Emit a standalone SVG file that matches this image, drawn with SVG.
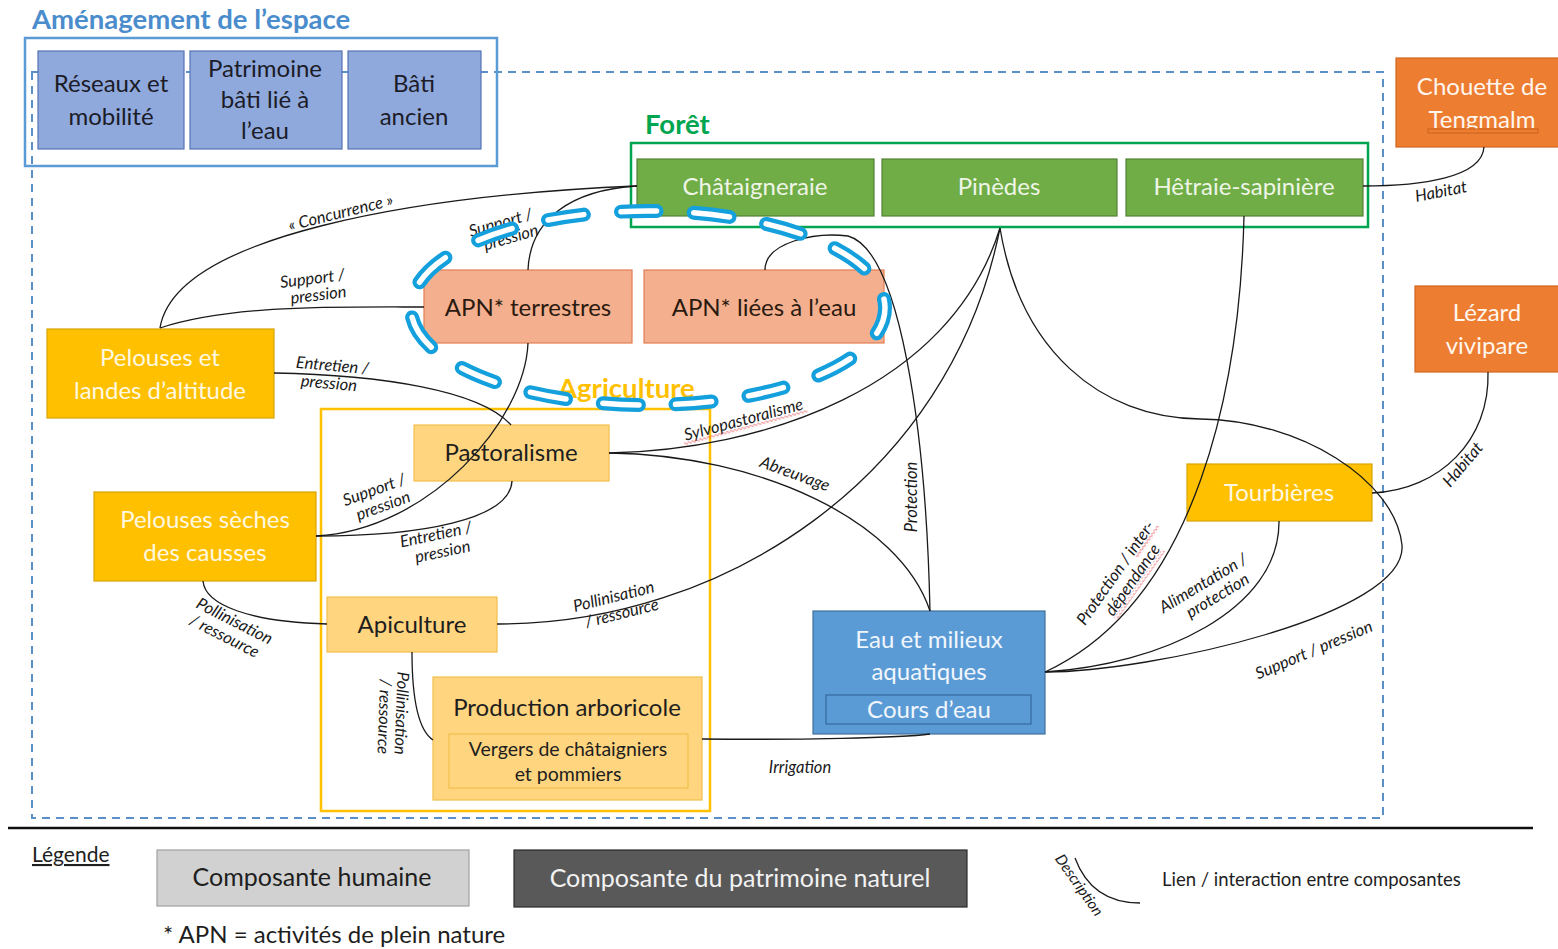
<svg xmlns="http://www.w3.org/2000/svg" width="1558" height="949" viewBox="0 0 1558 949">
<defs>
<style>
text{font-family:Lato,"Open Sans","Liberation Sans",sans-serif}
.n text{font-size:24px;text-anchor:middle}
.bp rect{fill:#8fa9dc;stroke:#5573b4;stroke-width:1.2}
.bp text{fill:#1c1c28}
.gr rect{fill:#70ad47;stroke:#548235;stroke-width:1.2}
.gr text{fill:#eef5e6}
.or rect{fill:#ed7d31;stroke:#d0651e;stroke-width:1.2}
.or text{fill:#fff6ee}
.ap rect{fill:#f4b08e;stroke:#e07e52;stroke-width:1.2}
.ap text{fill:#2b1a10}
.ye rect{fill:#ffc000;stroke:#d9a300;stroke-width:1.2}
.ye text{fill:#fff8e0}
.lo rect{fill:#ffd580;stroke:#f2bf4c;stroke-width:1.2}
.lo text{fill:#1e1e1e}
.bl rect{fill:#5b9bd5;stroke:#41719c;stroke-width:1.2}
.bl text{fill:#f0f6fc}
.c path{fill:none;stroke:#1a1a1a;stroke-width:1.3}
.lbl{font-style:italic;font-size:16.5px;fill:#1a1a1a;text-anchor:middle}
.ttl{font-weight:bold;font-size:27.5px}
</style>
<pattern id="wave" x="0" y="0" width="4" height="4" patternUnits="userSpaceOnUse">
<path d="M0,2.5 Q1,0.5 2,2.5 T4,2.5" fill="none" stroke="#e0303a" stroke-width="0.9"/>
</pattern>
</defs>
<rect x="0" y="0" width="1558" height="949" fill="#ffffff"/>

<g id="frames">
<rect x="32" y="72" width="1351" height="746" fill="none" stroke="#5b8fc7" stroke-width="2" stroke-dasharray="8 6"/>
<rect x="25" y="38" width="472" height="128" fill="none" stroke="#5b9bd5" stroke-width="2.5"/>
<text x="32" y="29" class="ttl" fill="#4a8ccc">Aménagement de l’espace</text>
<rect x="631" y="143" width="737" height="84" fill="none" stroke="#00a550" stroke-width="2.5"/>
<text x="645" y="134" class="ttl" fill="#00a550">Forêt</text>
<rect x="321" y="409" width="389" height="402" fill="none" stroke="#ffc000" stroke-width="2.5"/>
<text x="558" y="398" class="ttl" fill="#ffc000">Agriculture</text>
</g>

<g id="reseaux" class="n bp"><rect x="38" y="51" width="146" height="98"/><text x="111" y="92">Réseaux et</text><text x="111" y="125">mobilité</text></g>
<g id="patrimoine" class="n bp"><rect x="190" y="51" width="152" height="98"/><text x="265" y="77">Patrimoine</text><text x="265" y="108">bâti lié à</text><text x="265" y="139">l’eau</text></g>
<g id="bati" class="n bp"><rect x="348" y="51" width="133" height="98"/><text x="414" y="92">Bâti</text><text x="414" y="125">ancien</text></g>

<g id="chataigneraie" class="n gr"><rect x="637" y="159" width="237" height="57"/><text x="755" y="195">Châtaigneraie</text></g>
<g id="pinedes" class="n gr"><rect x="882" y="159" width="235" height="57"/><text x="999" y="195">Pinèdes</text></g>
<g id="hetraie" class="n gr"><rect x="1126" y="159" width="237" height="57"/><text x="1244" y="195">Hêtraie-sapinière</text></g>

<g id="chouette" class="n or"><rect x="1396" y="58" width="164" height="89"/><text x="1482" y="95">Chouette de</text><text x="1482" y="128">Tengmalm</text><rect x="1428" y="129" width="110" height="4" fill="url(#wave)" stroke="none"/></g>
<g id="lezard" class="n or"><rect x="1415" y="286" width="145" height="86"/><text x="1487" y="321">Lézard</text><text x="1487" y="354">vivipare</text></g>

<g id="apn-terrestres" class="n ap"><rect x="424" y="270" width="208" height="73"/><text x="528" y="316">APN* terrestres</text></g>
<g id="apn-eau" class="n ap"><rect x="644" y="270" width="240" height="73"/><text x="764" y="316">APN* liées à l’eau</text></g>

<g id="pelouses-altitude" class="n ye"><rect x="47" y="329" width="227" height="89"/><text x="160" y="366">Pelouses et</text><text x="160" y="399">landes d’altitude</text></g>
<g id="pelouses-seches" class="n ye"><rect x="94" y="492" width="222" height="89"/><text x="205" y="528">Pelouses sèches</text><text x="205" y="561">des causses</text></g>
<g id="tourbieres" class="n ye"><rect x="1187" y="464" width="185" height="57"/><text x="1279" y="501">Tourbières</text></g>

<g id="pastoralisme" class="n lo"><rect x="414" y="425" width="195" height="56"/><text x="511" y="461">Pastoralisme</text></g>
<g id="apiculture" class="n lo"><rect x="327" y="597" width="170" height="55"/><text x="412" y="633">Apiculture</text></g>
<g id="production" class="n lo"><rect x="433" y="677" width="269" height="123"/><text x="567" y="716">Production arboricole</text><rect x="449" y="734" width="239" height="54"/><text x="568" y="756" style="font-size:19.5px">Vergers de châtaigniers</text><text x="568" y="781" style="font-size:19.5px">et pommiers</text></g>

<g id="eau" class="n bl"><rect x="813" y="611" width="232" height="123"/><text x="929" y="648">Eau et milieux</text><text x="929" y="680">aquatiques</text><rect x="826" y="695" width="205" height="29" style="stroke:#2f5f96;stroke-width:1"/><text x="929" y="718">Cours d’eau</text></g>

<g id="connectors" class="c">
<path d="M637,186 C420,195 175,235 160,328"/>
<path d="M160,328 C230,305 330,307 424,307"/>
<path d="M637,186 C570,190 530,220 528,270"/>
<path d="M528,343 C525,420 430,530 316,536"/>
<path d="M512,481 C510,520 420,536 316,536"/>
<path d="M274,373 C380,375 480,390 511,425"/>
<path d="M609,453 C760,450 950,390 1000,228"/>
<path d="M609,453 C760,455 900,520 930,611"/>
<path d="M497,624 C720,625 950,480 1000,228"/>
<path d="M765,270 C765,242 815,232 848,236 C900,250 926,430 930,611"/>
<path d="M702,739 C800,740 900,738 930,734"/>
<path d="M327,624 C250,622 205,605 203,581"/>
<path d="M412,652 C412,700 418,730 433,740"/>
<path d="M1244,216 C1240,380 1200,600 1045,672"/>
<path d="M1279,521 C1280,610 1160,665 1045,672"/>
<path d="M1000,228 C1020,350 1100,418 1200,419 C1300,420 1395,480 1402,545 C1408,615 1150,672 1045,672"/>
<path d="M1363,186 C1420,186 1482,178 1484,147"/>
<path d="M1488,372 C1490,440 1440,490 1372,493"/>
</g>

<g id="connector-labels">
<text class="lbl" transform="translate(342,218) rotate(-14)">« Concurrence »</text>
<g transform="translate(313,284) rotate(-7)"><text class="lbl">Support /</text><text class="lbl" x="4" y="17">pression</text></g>
<g transform="translate(502,228) rotate(-16)"><text class="lbl">Support /</text><text class="lbl" x="6" y="17">pression</text></g>
<g transform="translate(332,371) rotate(5)"><text class="lbl">Entretien /</text><text class="lbl" x="-2" y="18">pression</text></g>
<g transform="translate(376,495) rotate(-20)"><text class="lbl">Support /</text><text class="lbl" x="3" y="18">pression</text></g>
<g transform="translate(437,540) rotate(-12)"><text class="lbl">Entretien /</text><text class="lbl" x="3" y="18">pression</text></g>
<g transform="translate(745,425) rotate(-15)"><text class="lbl">Sylvopastoralisme</text><rect x="-64" y="1" width="128" height="4" fill="url(#wave)"/></g>
<text class="lbl" transform="translate(793,479) rotate(20)">Abreuvage</text>
<text class="lbl" transform="translate(917,497) rotate(-90)">Protection</text>
<g transform="translate(615,602) rotate(-14)"><text class="lbl">Pollinisation</text><text class="lbl" x="4" y="18">/ ressource</text></g>
<g transform="translate(232,626) rotate(27)"><text class="lbl">Pollinisation</text><text class="lbl" x="-2" y="18">/ ressource</text></g>
<g transform="translate(396,713) rotate(92)"><text class="lbl">Pollinisation</text><text class="lbl" x="4" y="17">/ ressource</text></g>
<text class="lbl" x="800" y="773">Irrigation</text>
<g transform="translate(1120,576) rotate(-55)"><text class="lbl">Protection / inter-</text><rect x="25" y="1" width="38" height="4" fill="url(#wave)"/><text class="lbl" x="4" y="18">dépendance</text><rect x="-38" y="19" width="84" height="4" fill="url(#wave)"/></g>
<g transform="translate(1206,588) rotate(-31)"><text class="lbl">Alimentation /</text><text class="lbl" x="6" y="18">protection</text></g>
<text class="lbl" transform="translate(1316,655) rotate(-23)">Support / pression</text>
<text class="lbl" transform="translate(1442,197) rotate(-11)">Habitat</text>
<text class="lbl" transform="translate(1467,468) rotate(-50)">Habitat</text>
</g>

<g id="highlight">
<ellipse cx="648" cy="308" rx="237" ry="97" fill="none" stroke="#14a0dc" stroke-width="14" stroke-linecap="round" stroke-dasharray="36 37" stroke-dashoffset="9" pathLength="1095"/>
<ellipse cx="648" cy="308" rx="237" ry="97" fill="none" stroke="#ffffff" stroke-width="5.5" stroke-linecap="round" stroke-dasharray="36 37" stroke-dashoffset="9" pathLength="1095"/>
</g>

<g id="legend">
<line x1="8" y1="828" x2="1533" y2="828" stroke="#111111" stroke-width="2.5"/>
<text x="32" y="862" style="font-size:21px;text-decoration:underline" fill="#1e1e1e">Légende</text>
<g id="legend-humaine" class="n"><rect x="157" y="850" width="312" height="56" fill="#d1d1d1" stroke="#a0a0a0" stroke-width="1.2"/><text x="312" y="886" style="font-size:25px" fill="#1e1e1e">Composante humaine</text></g>
<g id="legend-naturel" class="n"><rect x="514" y="850" width="453" height="57" fill="#595959" stroke="#2a2a2a" stroke-width="1.2"/><text x="740" y="887" style="font-size:25px" fill="#f2f2f2">Composante du patrimoine naturel</text></g>
<text x="163" y="943" style="font-size:24px" fill="#1e1e1e">* APN = activités de plein nature</text>
<path d="M1075,858 C1085,885 1105,903 1140,903" fill="none" stroke="#1a1a1a" stroke-width="1.3"/>
<text transform="translate(1075,888) rotate(55)" style="font-size:15px;font-style:italic;text-anchor:middle" fill="#1a1a1a">Description</text>
<text x="1162" y="886" style="font-size:18.5px" fill="#1e1e1e">Lien / interaction entre composantes</text>
</g>
</svg>
